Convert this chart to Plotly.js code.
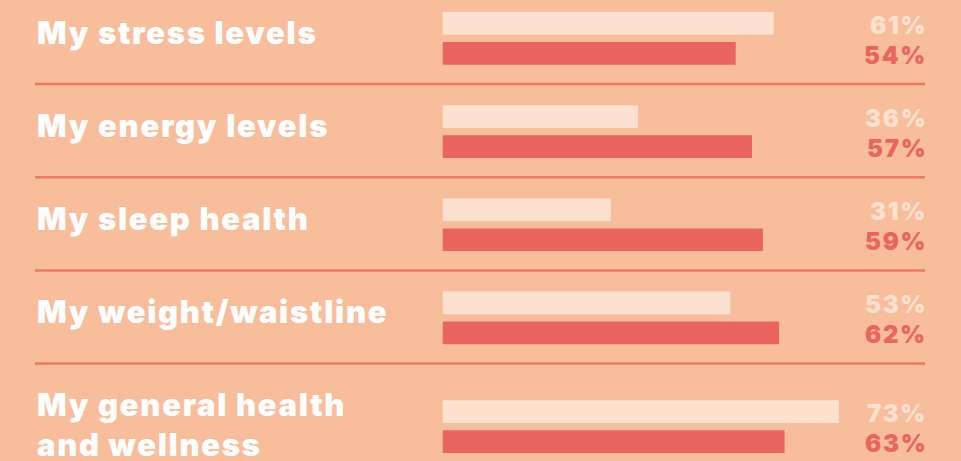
<!DOCTYPE html>
<html>
<head>
<meta charset="utf-8">
<script src="https://cdn.plot.ly/plotly-3.0.1.min.js"></script>
<style>
html,body{margin:0;padding:0;background:#F8BE9C;}
#chart{width:961px;height:461px;}
.annotation-text{letter-spacing:1.7px;}
</style>
</head>
<body>
<div id="chart"></div>
<script>
// Data
const categories = ["My stress levels", "My energy levels", "My sleep health", "My weight/waistline", "My general health<br>and wellness"];
const lightValues = [61, 36, 31, 53, 73];
const redValues = [54, 57, 59, 62, 63];

// Styling
const BG = "#F8BE9C";
const LIGHT = "#FCE0D0";
const RED = "#EA6560";
const SEP = "#F07864";
const pxPerUnit = 5.43;
const x0px = 442.5;
const W = 961, H = 461;
const rowPitch = 93.2;
const firstCenter = 38.35;

const rowPos = categories.map((c, i) => i + (c.indexOf("<br>") >= 0 ? 0.167 : 0));

const barW = 22.7 / rowPitch;
const lightOff = -26.35 / rowPitch;
const redOff = 3.65 / rowPitch;

const traces = [
  {type: "bar", orientation: "h", y: rowPos, x: lightValues, base: 0,
   width: rowPos.map(() => barW), offset: lightOff,
   marker: {color: LIGHT}, hoverinfo: "skip"},
  {type: "bar", orientation: "h", y: rowPos, x: redValues, base: 0,
   width: rowPos.map(() => barW), offset: redOff,
   marker: {color: RED}, hoverinfo: "skip"}
];

const yTop = -firstCenter / rowPitch;
const yBottom = yTop + H / rowPitch;

const annotations = [];
categories.forEach((c, i) => {
  const twoLine = c.indexOf("<br>") >= 0;
  annotations.push({
    text: c, xref: "paper", yref: "y", x: 35 / W, y: rowPos[i],
    xanchor: "left", yanchor: "middle", align: "left", showarrow: false,
    yshift: twoLine ? 2 : 6,
    font: {family: "Inter", size: 31, color: "#FFFFFF", weight: 900}
  });
  annotations.push({
    text: lightValues[i] + "%", xref: "paper", yref: "y", x: 928.5 / W,
    y: rowPos[i] + lightOff + barW / 2, xanchor: "right", yanchor: "middle",
    showarrow: false, yshift: -2,
    font: {family: "Inter", size: 24, color: LIGHT, weight: 900}
  });
  annotations.push({
    text: redValues[i] + "%", xref: "paper", yref: "y", x: 928.5 / W,
    y: rowPos[i] + redOff + barW / 2, xanchor: "right", yanchor: "middle",
    showarrow: false, yshift: -2,
    font: {family: "Inter", size: 24, color: RED, weight: 900}
  });
});

const shapes = [];
for (let i = 0; i < categories.length - 1; i++) {
  shapes.push({type: "line", xref: "paper", yref: "y", x0: 35 / W, x1: 925 / W,
    y0: i + 0.49, y1: i + 0.49, line: {color: SEP, width: 2.5}});
}

const layout = {
  width: W, height: H,
  margin: {l: 0, r: 0, t: 0, b: 0},
  paper_bgcolor: BG, plot_bgcolor: BG,
  barmode: "overlay",
  showlegend: false,
  xaxis: {domain: [x0px / W, 1], range: [0, (W - x0px) / pxPerUnit],
    visible: false, fixedrange: true},
  yaxis: {range: [yBottom, yTop], visible: false, fixedrange: true},
  annotations: annotations,
  shapes: shapes
};

Plotly.newPlot("chart", traces, layout, {staticPlot: true, displayModeBar: false});
</script>
</body>
</html>
